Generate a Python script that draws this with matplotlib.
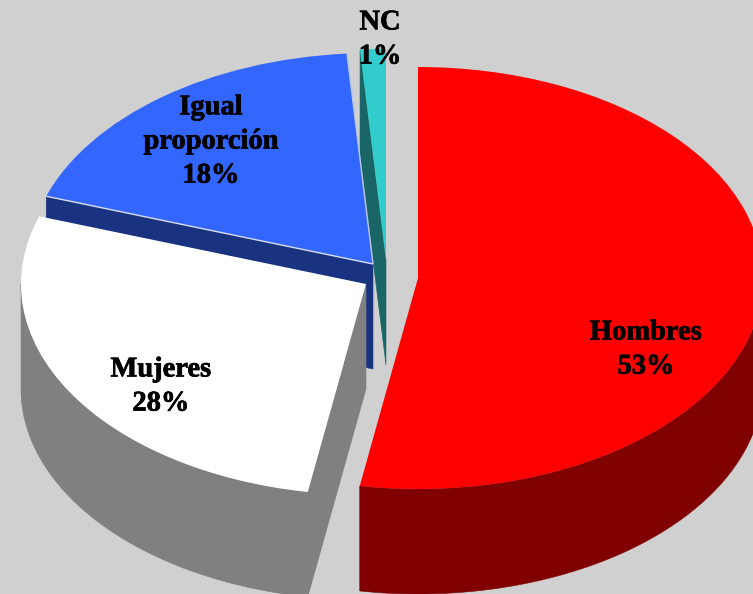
import numpy as np
import matplotlib
matplotlib.use("Agg")
import matplotlib.pyplot as plt
import matplotlib.patheffects as pe
from matplotlib.patches import Polygon, Wedge
from matplotlib.transforms import Affine2D

labels = ["Hombres\n53%", "Mujeres\n28%", "Igual\nproporción\n18%", "NC\n1%"]
values = [52.7, 27.5, 18.6, 1.2]
top_colors = ["#FF0000", "#FFFFFF", "#3366FF", "#33CCCC"]
side_colors = ["#800000", "#808080", "#1A3380", "#1A6666"]
apexes = [(418, 278), (366, 284), (373, 264), (386, 260)]
label_pos = [(646, 350), (161, 387), (211, 142), (380, 40)]

RX, RY, DEPTH = 345, 211, 105
BG = "#D0D0D0"

fig = plt.figure(figsize=(7.53, 5.94), dpi=100, facecolor=BG)
ax = fig.add_axes([0, 0, 1, 1])
ax.set_xlim(0, 753)
ax.set_ylim(594, 0)
ax.axis("off")

edges = np.concatenate([[0], np.cumsum(values)]) / sum(values) * 360


def rim(c, t):
    t = np.radians(t)
    return np.column_stack([c[0] + RX * np.sin(t), c[1] - RY * np.cos(t)])


def poly(points, color, z):
    ax.add_patch(Polygon(points, closed=True, fc=color, ec=color, lw=0.4, zorder=z))


def wall(c, t0, t1, color, z):
    arc = rim(c, np.linspace(t0, t1, 200))
    pts = np.vstack([arc, arc[::-1] + [0, DEPTH]])
    poly(pts, color, z)


def cut(c, t, color, z):
    e = rim(c, np.array([t]))[0]
    poly([c, e, e + [0, DEPTH], np.array(c) + [0, DEPTH]], color, z)


def top(c, t0, t1, color, z):
    tr = Affine2D().scale(RX, RY).translate(*c) + ax.transData
    ax.add_patch(Wedge((0, 0), 1, 90 - t1, 90 - t0, fc=color, ec="none",
                       transform=Affine2D().scale(1, -1) + tr, zorder=z))


def edge_line(c, t, color, z):
    e = rim(c, np.array([t]))[0]
    ax.plot([c[0], e[0]], [c[1], e[1]], color=color, lw=1.0, zorder=z,
            solid_capstyle="butt")


# NC: only the cut face is visible, behind the blue slice
cut(apexes[3], edges[3], side_colors[3], 1)
top(apexes[3], edges[3], edges[4], top_colors[3], 2)

# Igual proporción
cut(apexes[2], edges[2], side_colors[2], 3)
top(apexes[2], edges[2], edges[3], top_colors[2], 4)
edge_line(apexes[2], edges[2], "#D8DEF0", 4.5)
edge_line(apexes[2], edges[3], "#B8C8F0", 4.5)

# Mujeres
wall(apexes[1], edges[1], 270, side_colors[1], 5)
cut(apexes[1], edges[1], side_colors[1], 5)
top(apexes[1], edges[1], edges[2], top_colors[1], 6)

# Hombres
wall(apexes[0], 90, edges[1], side_colors[0], 7)
top(apexes[0], edges[0], edges[1], top_colors[0], 8)

for text, (x, y) in zip(labels, label_pos):
    ax.text(x, y, text, ha="center", va="center", family="Liberation Serif",
            fontweight="bold", fontsize=20.5, color="#000000", linespacing=1.48, zorder=10,
            path_effects=[pe.withStroke(linewidth=0.5, foreground="#000000")])

fig.savefig("out.png", dpi=100, facecolor=BG)
